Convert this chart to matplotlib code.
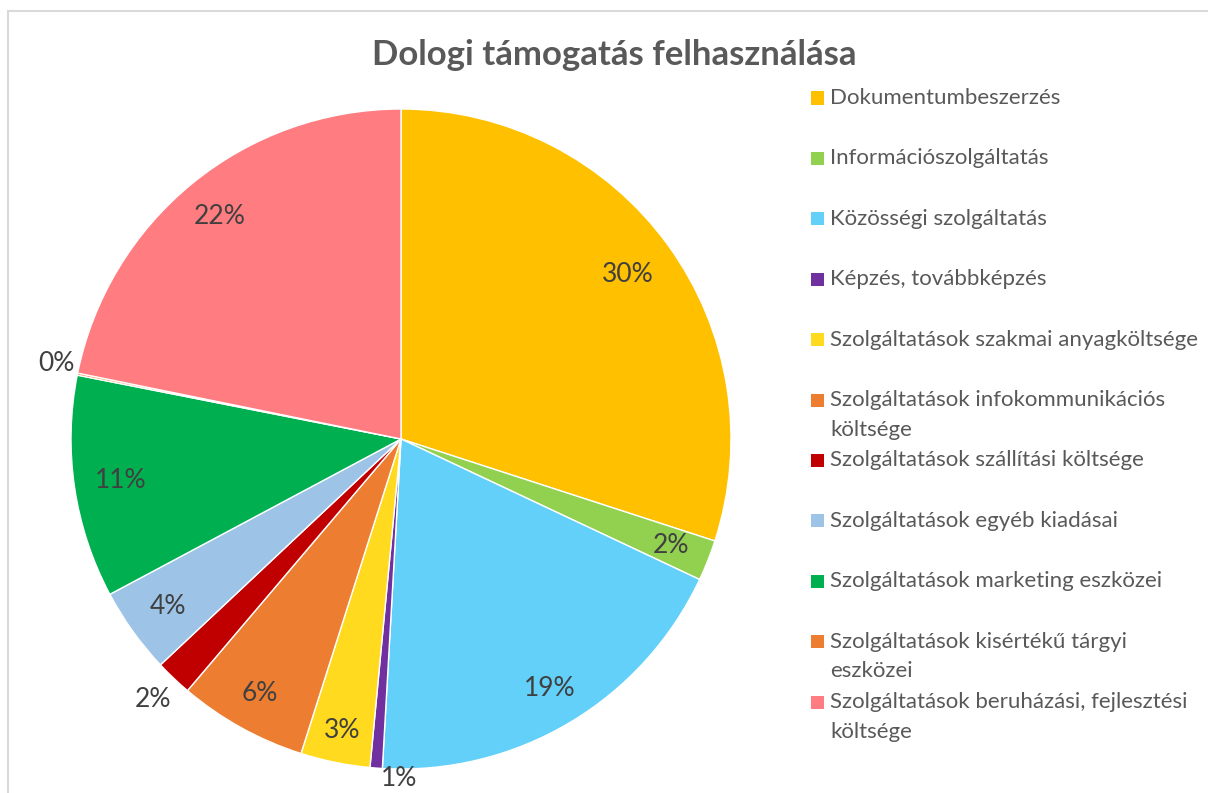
import matplotlib
matplotlib.use("Agg")
import numpy as np
import matplotlib.pyplot as plt
from matplotlib.patches import Rectangle

plt.rcParams['font.family'] = ['Lato', 'DejaVu Sans']

title = 'Dologi támogatás felhasználása'

categories = [
    'Dokumentumbeszerzés',
    'Információszolgáltatás',
    'Közösségi szolgáltatás',
    'Képzés, továbbképzés',
    'Szolgáltatások szakmai anyagköltsége',
    'Szolgáltatások infokommunikációs\nköltsége',
    'Szolgáltatások szállítási költsége',
    'Szolgáltatások egyéb kiadásai',
    'Szolgáltatások marketing eszközei',
    'Szolgáltatások kisértékű tárgyi\neszközei',
    'Szolgáltatások beruházási, fejlesztési\nköltsége',
]
shares = [30.0, 2.0, 18.9, 0.6, 3.4, 6.3, 1.8, 4.2, 10.9, 0.1, 21.8]
colors = ['#FFC000', '#92D050', '#62D0F8', '#7030A0', '#FFDA1F', '#ED7D31',
          '#C00000', '#9DC3E6', '#00B050', '#ED7D31', '#FF7C80']
# label distance from centre (fraction of radius), outside ones > 1
label_r = [0.85, 0.88, 0.88, 1.03, 0.90, 0.88, 1.09, 0.87, 0.86, 1.07, 0.87]
label_shift = [0, 0, 0, -4, 0, 0, 0, 0, 0, 1, 0]  # degrees

W, H = 1208, 793
fig = plt.figure(figsize=(W / 100, H / 100), dpi=100)

# chart border
fig.patches.append(Rectangle((8 / W, -0.1), 1.2, 1 - 11 / H + 0.1,
                             transform=fig.transFigure, fill=False,
                             edgecolor='#D9D9D9', linewidth=1.5))

cx, cy, R = 401, 439, 330
ax = fig.add_axes([(cx - R) / W, (H - cy - R) / H, 2 * R / W, 2 * R / H])
wedges, _ = ax.pie(shares, colors=colors, startangle=90, counterclock=False,
                   radius=1, wedgeprops=dict(edgecolor='white', linewidth=1))
ax.set_xlim(-1, 1)
ax.set_ylim(-1, 1)
ax.set_aspect('equal')
ax.axis('off')

total = sum(shares)
start = 0.0
for val, r, sh in zip(shares, label_r, label_shift):
    mid = (start + val / 2) / total * 2 * np.pi + np.radians(sh)
    start += val
    x, y = r * np.sin(mid), r * np.cos(mid)
    ax.text(x, y, f'{round(val / total * 100):.0f}%', ha='center', va='center',
            fontsize=19, color='#404040')

fig.text(614 / W, 1 - 55 / H, title, ha='center', va='center', fontsize=25,
         fontweight='bold', color='#595959')

# legend
y0, step = 98, 60.4
for i, (lab, col) in enumerate(zip(categories, colors)):
    ly = y0 + i * step
    fig.patches.append(Rectangle((811 / W, 1 - (ly + 6.5) / H), 13 / W, 13 / H,
                                 transform=fig.transFigure, facecolor=col,
                                 edgecolor='none'))
    fig.text(830 / W, 1 - (ly - 10) / H, lab, ha='left', va='top', fontsize=16,
             color='#595959', linespacing=1.6)

fig.savefig('out.png', dpi=100)
